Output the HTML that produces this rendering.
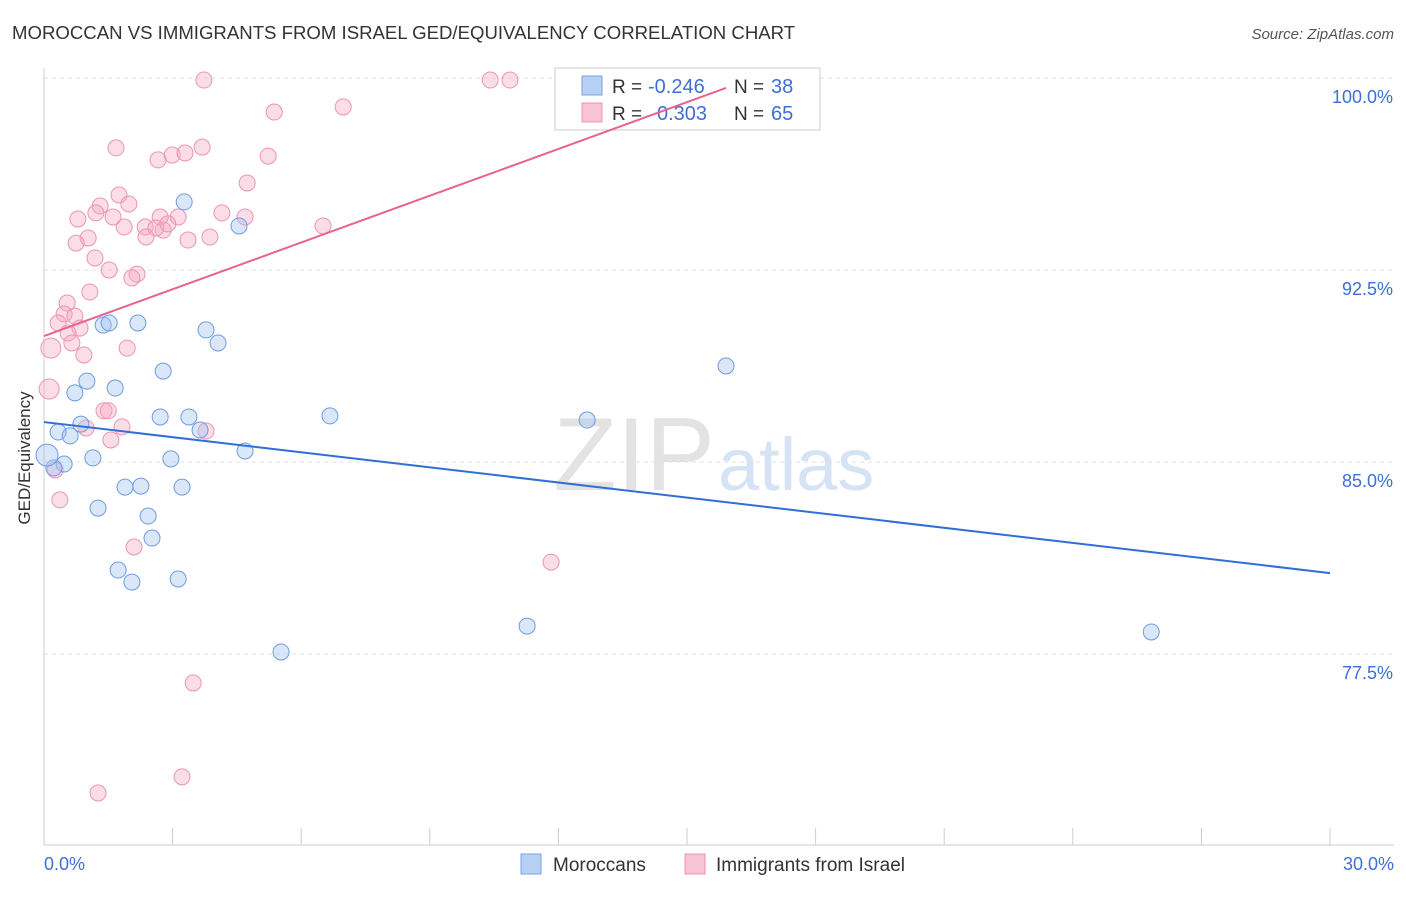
<!DOCTYPE html>
<html><head><meta charset="utf-8"><style>
body{margin:0;background:#fff;font-family:"Liberation Sans",sans-serif;}
svg text{font-family:"Liberation Sans",sans-serif;}
</style></head><body>
<svg id="c" width="1406" height="892">
<text x="12" y="39" font-size="18.6" fill="#333">MOROCCAN VS IMMIGRANTS FROM ISRAEL GED/EQUIVALENCY CORRELATION CHART</text>
<text x="1394" y="39" font-size="15" fill="#555" text-anchor="end" font-style="italic">Source: ZipAtlas.com</text>
<text x="715" y="490" font-size="104" fill="#e3e3e3" text-anchor="end" font-family="Liberation Serif">ZIP</text>
<text x="718" y="490" font-size="74" fill="#d6e3f5">atlas</text>
<g id="grid"></g>
<line x1="44" y1="68" x2="44" y2="845" stroke="#ccc"/>
<line x1="44" y1="845" x2="1394" y2="845" stroke="#ccc"/>
<text x="30" y="458" font-size="17" fill="#333" text-anchor="middle" transform="rotate(-90 30 458)">GED/Equivalency</text>
<text x="44" y="870" font-size="18" fill="#3d6fd6">0.0%</text>
<text x="1394" y="870" font-size="18" fill="#3d6fd6" text-anchor="end">30.0%</text>
<g id="pts"></g>
<g>
<rect x="555" y="68" width="265" height="62" fill="#fff" stroke="#ccc"/>
<rect x="582" y="76" width="20" height="19" fill="#b6d0f3" stroke="#7aa3e3"/>
<rect x="582" y="103" width="20" height="19" fill="#f8c4d4" stroke="#ec95b1"/>
<text x="612" y="93" font-size="19" fill="#333">R =</text>
<text x="648" y="93" font-size="20" fill="#3d6fd6">-0.246</text>
<text x="734" y="93" font-size="19" fill="#333">N =</text>
<text x="771" y="93" font-size="20" fill="#3d6fd6">38</text>
<text x="612" y="120" font-size="19" fill="#333">R =</text>
<text x="657" y="120" font-size="20" fill="#3d6fd6">0.303</text>
<text x="734" y="120" font-size="19" fill="#333">N =</text>
<text x="771" y="120" font-size="20" fill="#3d6fd6">65</text>
</g>
<g id="lines"></g>
<g>
<rect x="521" y="854" width="20" height="20" fill="#b6d0f3" stroke="#7aa3e3"/>
<text x="553" y="871" font-size="19" fill="#333">Moroccans</text>
<rect x="685" y="854" width="20" height="20" fill="#f8c4d4" stroke="#ec95b1"/>
<text x="716" y="871" font-size="19" fill="#333">Immigrants from Israel</text>
</g>
</svg>
<script>
const yTicks=[100,92.5,85,77.5];
const yTickLabels=["100.0%","92.5%","85.0%","77.5%"];
const xTicks=[3,6,9,12,15,18,21,24,27,30];
const moroccanX=[3.27,4.55,1.38,1.52,2.19,3.78,4.06,2.78,1.00,1.66,0.72,15.91,2.71,3.38,6.67,12.67,0.86,0.33,0.61,3.64,4.69,1.14,2.96,0.47,0.23,0.07,1.89,2.26,3.22,1.26,2.43,2.52,1.73,2.05,3.13,11.27,25.83,5.53];
const moroccanY=[95.16,94.22,90.35,90.43,90.43,90.16,89.65,88.55,88.16,87.89,87.70,88.75,86.76,86.76,86.80,86.64,86.48,86.17,86.02,86.25,85.43,85.16,85.12,84.92,84.77,85.27,84.02,84.06,84.02,83.20,82.89,82.03,80.78,80.31,80.43,78.59,78.36,77.58];
const israelX=[3.73,10.41,10.87,6.98,5.37,15.91,1.68,3.69,2.66,2.99,3.29,5.23,4.74,1.75,1.98,1.31,1.21,1.61,0.79,4.15,3.13,4.69,6.51,2.71,2.36,1.87,2.78,2.61,2.89,2.38,3.36,3.87,1.03,0.75,1.19,1.52,2.17,2.05,1.07,0.54,0.47,0.72,0.33,0.84,0.56,0.65,0.16,1.94,0.93,0.12,1.40,1.50,0.98,1.82,3.78,1.56,0.26,0.37,2.10,11.83,3.48,3.22,1.26];
const israelY=[99.92,99.92,99.92,98.87,98.67,99.41,97.27,97.30,96.80,96.99,97.07,96.95,95.90,95.43,95.08,95.00,94.73,94.57,94.49,94.73,94.57,94.57,94.22,94.57,94.18,94.18,94.06,94.14,94.30,93.79,93.67,93.79,93.75,93.55,92.97,92.50,92.34,92.19,91.64,91.21,90.78,90.70,90.43,90.23,90.04,89.65,89.45,89.45,89.18,87.85,87.00,87.00,86.33,86.37,86.21,85.86,84.69,83.52,81.68,81.09,76.37,72.70,72.07];
const moroccanTrend=[[0,86.56],[30,80.66]];
const israelTrend=[[0,89.92],[15.91,99.61]];
const X=v=>44+v/30*1286, Y=v=>78+(100-v)/7.5*192;
const NS="http://www.w3.org/2000/svg";
function mk(t,a,p){const e=document.createElementNS(NS,t);for(const k in a)e.setAttribute(k,a[k]);p.appendChild(e);return e;}
const g=document.getElementById('grid');
yTicks.forEach((v,i)=>{
 const l=mk('line',{x1:44,x2:1394,y1:Y(v),y2:Y(v),stroke:'#e2e2e2','stroke-dasharray':'4 4'},g);
 
 
 const t=mk('text',{x:1393,y:Y(v)+25,'font-size':18,fill:'#3d6fd6','text-anchor':'end'},g);
 t.textContent=yTickLabels[i];
 
 
});
xTicks.forEach(v=>{
 const l=mk('line',{x1:X(v),x2:X(v),y1:828,y2:845,stroke:'#ccc'},g);
 
 
});
const p=document.getElementById('pts');
israelX.forEach((x,i)=>{
 const c=mk('circle',{cx:X(x),cy:Y(israelY[i]),r:x<0.2?10:8,fill:'rgba(244,170,195,0.4)',stroke:'#ec95b1','stroke-width':1},p);
 
 
});
moroccanX.forEach((x,i)=>{
 const c=mk('circle',{cx:X(x),cy:Y(moroccanY[i]),r:x<0.1?11:8,fill:'rgba(160,195,240,0.4)',stroke:'#6f9be0','stroke-width':1},p);
 
 
});
const L=document.getElementById('lines');
const b=mk('line',{x1:X(moroccanTrend[0][0]),y1:Y(moroccanTrend[0][1]),x2:X(moroccanTrend[1][0]),y2:Y(moroccanTrend[1][1]),stroke:'#2f6fd6','stroke-width':2},L);


const r=mk('line',{x1:X(israelTrend[0][0]),y1:Y(israelTrend[0][1]),x2:X(israelTrend[1][0]),y2:Y(israelTrend[1][1]),stroke:'#e8648f','stroke-width':2},L);


</script>
</body></html>
